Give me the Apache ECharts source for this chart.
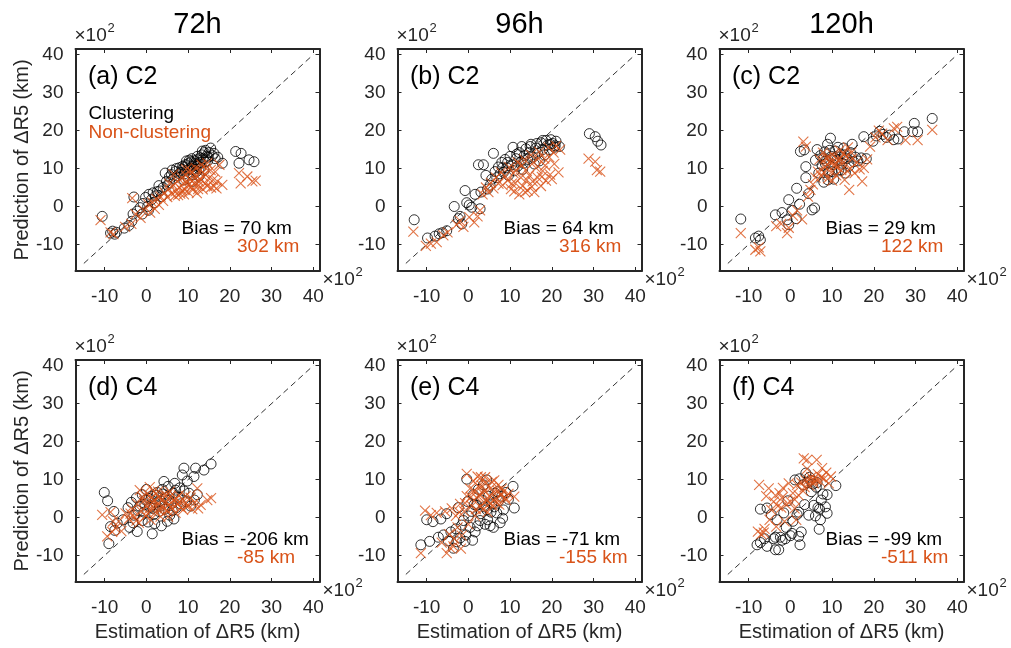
<!DOCTYPE html>
<html>
<head>
<meta charset="utf-8">
<script src="https://cdn.jsdelivr.net/npm/echarts@6/dist/echarts.min.js"></script>
<style>html,body{margin:0;padding:0;background:#fff;}#c{width:1011px;height:648px;}</style>
</head>
<body>
<div id="c"></div>
<script>
// ---------------- DATA (values in units of 10^2 km) ----------------
const columnTitles = ['72h', '96h', '120h'];
const panelLabels = ['(a) C2', '(b) C2', '(c) C2', '(d) C4', '(e) C4', '(f) C4'];
const biasClustering = ['Bias = 70 km', 'Bias = 64 km', 'Bias = 29 km', 'Bias = -206 km', 'Bias = -71 km', 'Bias = -99 km'];
const biasNonClustering = ['302 km', '316 km', '122 km', '-85 km', '-155 km', '-511 km'];
const tickValues = [-10, 0, 10, 20, 30, 40];
const diagonal = [[-15, -15], [40, 40]];

const aC = [[-10.6,-2.6],[-8.6,-7.0],[-8.1,-6.5],[-7.6,-7.3],[-7.2,-6.8],[-5.3,-5.7],[-4.2,-5.0],[-3.5,-3.9],[-3.2,-2.0],[-3.0,2.5],[-2.2,-1.2],[-1.5,-0.3],[-0.8,0.8],[-0.2,2.4],[0.3,0.0],[0.6,3.2],[1.2,1.8],[1.6,3.6],[2.2,2.8],[2.6,3.9],[3.2,4.1],[3.6,2.6],[4.0,5.0],[4.5,8.8],[5.0,5.6],[5.6,6.3],[6.2,9.6],[6.6,7.4],[7.0,9.2],[7.4,8.1],[7.9,10.2],[8.3,9.0],[8.7,10.6],[9.1,8.6],[9.4,11.0],[9.8,9.6],[10.1,11.3],[10.4,10.0],[10.7,11.8],[11.0,10.6],[11.3,9.8],[11.5,12.0],[11.8,11.0],[12.1,12.3],[12.3,10.8],[12.6,9.9],[12.9,12.8],[13.1,11.5],[13.3,13.6],[13.6,12.6],[13.9,14.2],[14.1,11.7],[14.4,13.3],[14.7,12.0],[15.0,14.2],[15.4,15.4],[16.2,14.0],[16.5,12.6],[17.1,13.0],[18.2,11.4],[11.0,6.6],[10.0,7.4],[12.6,8.0],[9.0,7.0],[13.8,9.5],[5.5,7.8],[6.0,8.4],[7.2,10.0],[8.0,8.6],[8.6,9.8],[9.2,10.4],[9.6,12.0],[10.3,12.2],[10.9,12.6],[11.6,11.4],[12.2,13.2],[12.8,11.6],[13.4,14.6],[14.2,14.8],[11.2,8.4],[12.0,9.2],[13.0,10.2],[14.8,13.0],[15.8,13.4],[2.0,1.0],[0.5,-1.0],[-1.0,-2.0],[3.0,5.5],[4.8,6.6],[21.4,14.5],[22.7,14.0],[22.2,11.4],[24.6,12.3],[25.8,11.8]];
const aN = [[-11.0,-3.6],[-8.6,-6.8],[-7.9,-7.3],[-5.1,-5.4],[-3.6,-4.6],[-3.4,2.2],[-2.6,-2.0],[-1.4,-3.0],[-0.6,-1.0],[0.4,0.6],[0.9,-1.6],[1.4,1.1],[2.0,-0.6],[2.4,2.0],[3.0,0.4],[3.4,2.6],[4.0,1.5],[4.4,3.6],[5.0,2.5],[5.4,4.6],[6.0,3.4],[6.4,5.6],[7.0,4.0],[7.4,6.6],[7.9,5.0],[8.1,3.4],[8.5,7.6],[8.9,6.0],[9.2,4.4],[9.5,8.2],[10.0,5.6],[10.1,3.7],[10.5,7.1],[11.0,9.0],[11.1,4.4],[11.5,6.1],[12.0,8.0],[12.1,3.5],[12.5,5.5],[12.9,9.6],[13.1,7.0],[13.5,4.5],[14.0,8.6],[14.1,6.0],[14.6,11.4],[15.0,7.5],[15.5,5.0],[16.2,5.3],[16.5,9.1],[17.0,6.6],[18.2,5.7],[17.5,11.0],[6.5,8.5],[5.5,6.0],[9.5,9.8],[7.6,3.0],[8.6,4.2],[9.8,6.6],[10.8,5.2],[11.6,7.4],[12.6,6.6],[13.6,8.0],[14.6,5.4],[15.4,9.6],[16.0,7.0],[11.8,10.2],[13.2,11.0],[9.0,3.2],[6.8,2.8],[10.4,9.6],[12.4,4.6],[14.4,10.0],[16.8,4.8],[22.2,8.8],[22.6,6.1],[24.2,7.9],[25.4,6.6],[26.2,6.8]];

const bC = [[-13.0,-3.5],[-9.8,-8.3],[-8.0,-7.8],[-7.0,-7.2],[-6.2,-6.9],[-5.2,-6.4],[-3.4,0.0],[-2.4,-3.2],[-2.0,-2.6],[-1.6,-4.6],[-0.8,4.2],[-0.4,1.0],[0.2,0.4],[0.8,-0.2],[1.6,3.2],[2.4,11.0],[2.8,-0.6],[3.0,3.8],[3.6,11.0],[4.2,8.2],[4.6,4.6],[5.2,5.6],[5.6,7.2],[6.0,14.0],[6.4,9.2],[6.8,7.6],[7.2,10.4],[7.6,8.6],[8.0,11.6],[8.4,9.0],[8.8,12.4],[9.2,10.2],[9.6,8.2],[10.0,13.2],[10.4,11.0],[10.7,15.6],[11.0,9.4],[11.4,12.6],[11.8,10.6],[12.2,14.2],[12.6,11.8],[13.0,9.8],[13.4,13.4],[13.8,15.2],[14.2,12.4],[14.6,14.2],[15.0,16.4],[15.4,13.0],[15.8,11.2],[16.2,15.4],[16.6,14.0],[17.0,12.0],[17.4,16.8],[17.8,15.0],[18.2,13.6],[18.6,17.4],[19.0,16.2],[19.4,15.0],[19.8,17.6],[20.2,16.6],[20.6,15.6],[21.0,17.2],[21.8,15.8],[9.4,11.6],[11.6,13.8],[13.2,11.4],[14.8,15.8],[16.4,16.6],[17.8,17.4],[19.6,16.4],[20.8,16.0],[12.8,15.8],[8.2,10.2],[29.0,19.2],[30.4,18.4],[31.0,17.2],[31.8,16.2]];
const bN = [[-13.2,-6.6],[-10.2,-10.4],[-9.0,-9.8],[-7.6,-9.4],[-6.0,-7.6],[-5.0,-6.8],[-2.8,-4.8],[-2.0,-3.8],[-1.2,-5.4],[0.2,-2.8],[1.4,-4.2],[2.2,-2.6],[2.8,-1.0],[3.4,3.2],[4.2,5.0],[4.8,3.8],[5.4,6.2],[6.0,4.8],[6.6,7.6],[7.2,6.0],[7.8,9.0],[8.2,5.6],[8.8,8.0],[9.4,6.8],[9.8,10.4],[10.2,4.6],[10.8,8.8],[11.2,6.2],[11.8,11.6],[12.2,3.2],[12.6,7.6],[13.0,5.4],[13.4,12.4],[13.8,9.6],[14.2,4.2],[14.6,8.2],[15.0,13.6],[15.4,6.6],[15.8,3.8],[16.2,10.2],[16.6,7.6],[17.0,14.4],[17.4,5.4],[17.8,9.4],[18.2,12.6],[18.6,6.8],[19.2,15.6],[19.6,8.4],[20.0,7.2],[20.4,14.2],[21.0,16.0],[21.6,9.0],[22.0,15.0],[10.4,6.0],[11.4,9.6],[12.8,10.8],[14.0,7.0],[15.6,11.6],[16.8,12.6],[18.4,10.8],[19.4,13.0],[20.6,11.2],[13.6,3.8],[15.2,5.2],[17.6,7.8],[11.0,4.0],[28.8,12.6],[30.4,11.8],[30.8,9.6],[31.6,9.2]];

const cC = [[-11.9,-3.3],[-8.4,-8.3],[-7.6,-7.8],[-7.2,-8.8],[-3.6,-2.2],[-2.0,-1.6],[-0.8,-3.5],[-0.4,1.8],[-0.4,-4.8],[0.4,-1.0],[1.4,-3.2],[1.5,4.8],[2.2,0.6],[2.4,14.5],[3.3,14.9],[3.7,10.5],[3.7,7.6],[4.4,3.4],[5.2,-0.9],[5.8,-0.4],[6.0,12.2],[6.4,15.0],[6.8,8.8],[7.2,13.4],[7.6,10.8],[8.0,6.4],[8.2,14.4],[8.6,12.0],[8.9,16.4],[9.2,9.0],[9.6,18.0],[9.8,13.2],[10.2,11.0],[10.4,7.2],[10.8,14.6],[11.2,12.4],[11.6,9.6],[12.0,13.8],[12.4,11.4],[12.8,15.4],[13.2,8.8],[13.6,12.6],[14.0,10.6],[14.4,14.2],[14.8,16.4],[15.2,11.8],[15.6,13.0],[16.2,12.0],[17.0,12.8],[17.6,18.4],[18.2,12.6],[8.4,11.2],[9.4,14.8],[10.0,9.2],[10.6,12.8],[11.4,15.6],[12.2,9.6],[13.0,13.6],[7.8,12.6],[9.0,7.0],[12.6,12.6],[19.8,17.2],[20.6,18.6],[21.4,19.8],[22.2,19.0],[23.0,18.2],[23.8,18.8],[24.8,17.6],[25.8,17.8],[27.3,19.7],[29.3,19.7],[29.7,21.9],[30.5,19.7],[34.0,23.2]];
const cN = [[-11.9,-7.0],[-8.4,-11.4],[-7.6,-10.8],[-7.2,-11.8],[-3.4,-5.2],[-2.2,-4.6],[-0.8,-7.0],[-0.4,-5.6],[0.6,-2.4],[1.6,-1.0],[2.8,-3.4],[3.1,17.1],[3.7,15.8],[4.2,2.6],[4.8,4.4],[5.4,5.8],[6.0,7.6],[6.6,9.2],[7.0,12.4],[7.4,8.0],[7.8,14.2],[8.2,10.4],[8.6,12.8],[9.0,7.4],[9.4,11.6],[9.8,9.0],[10.2,13.6],[10.6,10.8],[11.0,8.2],[11.4,12.2],[11.8,14.8],[12.2,9.6],[12.6,11.4],[13.0,7.0],[13.4,13.2],[13.8,15.6],[14.1,4.4],[14.4,10.0],[14.8,12.6],[15.4,8.8],[16.0,11.6],[16.6,9.8],[17.2,6.6],[17.6,10.2],[18.4,12.4],[8.0,9.0],[9.2,13.0],[10.4,12.0],[11.2,10.4],[12.0,12.6],[12.8,14.0],[13.6,9.4],[8.8,11.0],[10.0,6.8],[14.6,14.2],[19.1,15.8],[20.4,18.2],[21.2,20.0],[22.0,19.2],[23.3,17.5],[24.8,20.6],[25.6,21.0],[27.6,17.5],[30.5,17.5],[34.0,20.2]];

const dC = [[-10.1,6.6],[-9.3,4.4],[-7.8,1.6],[-8.6,-2.4],[-7.6,-3.4],[-9.0,-6.9],[-7.0,-1.5],[-5.6,-0.6],[-4.4,2.6],[-3.6,4.0],[-3.0,0.6],[-2.2,-3.7],[-2.4,5.2],[-1.6,3.0],[-1.0,6.0],[-0.6,1.4],[-0.2,4.6],[0.4,-1.2],[0.8,2.8],[1.2,5.6],[1.4,-4.3],[1.8,0.8],[2.2,3.8],[2.6,6.6],[3.0,1.6],[3.4,4.4],[3.8,7.4],[4.2,9.5],[4.4,2.2],[4.8,5.2],[5.2,8.2],[5.6,0.6],[6.0,3.6],[6.4,6.4],[6.8,9.0],[7.2,2.6],[7.6,5.4],[8.0,7.8],[8.6,11.2],[9.0,13.0],[9.0,7.0],[9.6,4.2],[10.2,6.4],[11.4,10.8],[11.5,4.6],[11.8,13.0],[13.8,12.5],[15.5,14.1],[-1.0,-0.8],[0.0,7.4],[5.0,-1.0],[3.6,-2.2],[-2.0,1.8],[-0.4,3.4],[0.6,5.0],[1.6,2.4],[2.4,5.8],[3.2,3.0],[4.0,6.2],[5.4,4.6],[6.2,1.8],[7.0,7.2],[8.2,3.6],[-3.2,-1.4],[-4.0,-2.6],[2.0,-1.6],[6.6,-0.4],[9.8,9.6],[10.6,3.0],[12.2,6.0]];
const dN = [[-10.6,0.7],[-9.4,-5.0],[-8.2,-3.8],[-7.4,-2.8],[-8.6,1.4],[-6.6,-1.0],[-5.0,1.1],[-4.2,-0.4],[-3.4,2.2],[-2.8,0.2],[-2.2,3.6],[-1.8,-1.4],[-1.2,1.6],[-0.6,4.4],[-0.2,0.4],[0.2,6.2],[0.6,2.2],[1.0,-0.6],[1.4,4.0],[1.8,7.0],[2.2,1.4],[2.6,3.2],[3.0,5.4],[3.4,0.2],[3.8,2.6],[4.2,6.0],[4.6,4.0],[5.0,1.8],[5.4,3.4],[5.8,5.6],[6.2,2.4],[6.6,4.6],[7.0,1.2],[7.4,3.6],[7.8,5.8],[8.4,2.6],[9.0,4.4],[9.6,3.0],[10.0,3.0],[10.6,5.2],[11.0,2.2],[12.2,7.7],[13.0,3.3],[14.6,4.6],[15.5,5.1],[0.8,8.0],[-1.6,7.2],[-1.0,5.4],[0.0,3.2],[0.4,1.0],[1.2,5.2],[1.6,2.8],[2.0,4.6],[2.8,6.8],[3.2,1.8],[3.6,4.6],[4.4,2.4],[4.8,5.8],[5.2,0.2],[5.6,6.8],[6.4,3.4],[7.2,5.0],[8.0,4.0],[8.8,2.0],[9.4,5.6],[11.6,4.0],[12.4,2.4],[-3.8,1.0],[-2.4,-0.8],[-6.0,-3.6],[-8.0,-1.0]];

const eC = [[-11.4,-7.2],[-9.3,-6.3],[-10.0,-0.6],[-8.5,-1.1],[-7.2,-5.2],[-6.0,-4.6],[-5.2,1.0],[-4.8,-6.2],[-3.6,-8.1],[-3.0,-3.0],[-2.4,2.6],[-2.0,-5.4],[-1.2,-0.8],[-0.8,-6.3],[-0.4,10.1],[-0.2,4.2],[0.4,-2.6],[0.8,1.6],[1.2,6.0],[1.6,-3.8],[2.0,3.2],[2.4,7.4],[2.8,-0.8],[3.2,4.6],[3.6,8.6],[4.0,-1.8],[4.4,9.9],[4.4,2.0],[4.8,5.6],[5.2,-2.2],[5.6,3.6],[6.0,-2.6],[6.4,6.4],[6.8,1.2],[7.2,4.4],[7.6,-1.4],[8.0,5.6],[8.4,2.0],[9.0,6.6],[9.6,4.8],[10.7,8.2],[11.0,2.5],[-6.6,-0.4],[1.0,-6.0],[0.0,0.4],[1.4,3.4],[2.2,-2.2],[3.0,1.0],[3.8,2.8],[4.6,-0.6],[5.4,1.4],[6.2,2.8],[7.0,6.8],[8.2,-0.2],[-1.6,-2.0],[-2.8,-6.4],[-4.2,-3.8],[-0.6,-4.6]];
const eN = [[-11.4,-9.4],[-10.4,1.8],[-9.0,0.6],[-7.6,1.2],[-6.4,-6.6],[-5.2,-9.4],[-4.6,-4.4],[-4.0,2.4],[-3.6,-7.6],[-3.0,0.4],[-2.6,-2.6],[-2.0,3.6],[-1.6,-4.8],[-1.0,1.6],[-0.4,11.5],[-0.4,5.6],[0.0,-1.8],[0.4,7.6],[0.8,3.0],[1.2,9.6],[1.6,0.4],[2.0,5.2],[2.4,8.2],[2.8,2.8],[3.0,10.6],[3.4,6.4],[3.8,4.0],[4.2,9.0],[4.6,1.4],[5.0,5.6],[5.4,7.8],[5.8,3.2],[6.2,9.8],[6.6,5.0],[7.0,7.0],[7.4,3.4],[7.8,5.8],[8.4,6.8],[9.0,4.6],[9.6,6.2],[11.0,5.5],[-1.8,-8.2],[-5.6,1.6],[0.6,5.4],[1.4,7.0],[1.8,2.2],[2.6,6.0],[3.2,8.4],[3.6,2.2],[4.0,7.0],[4.4,4.4],[5.2,3.8],[5.6,9.4],[6.0,6.6],[6.8,3.8],[7.2,8.6],[8.0,7.6],[8.8,5.2],[-3.4,-5.6],[-4.4,-8.0],[-2.2,1.4],[-0.8,3.8],[2.2,10.8],[4.0,10.6]];

const fC = [[-8.0,-7.2],[-7.2,-6.6],[-5.6,-7.6],[-6.2,-5.6],[-7.2,2.2],[-5.6,2.5],[-3.6,-8.5],[-2.8,-8.5],[-3.6,-5.2],[-2.0,-6.0],[-3.2,-0.6],[-1.2,-5.6],[-0.6,4.4],[0.0,-4.8],[0.6,-1.0],[1.1,9.9],[1.6,0.8],[2.0,-5.0],[2.3,-7.2],[2.6,-3.8],[2.2,10.2],[3.0,8.6],[3.4,3.4],[3.7,11.7],[4.0,9.2],[4.4,0.6],[5.0,6.8],[5.6,3.2],[6.0,0.4],[6.2,8.0],[6.6,2.6],[6.9,-3.1],[7.2,-0.6],[7.4,4.6],[7.8,6.2],[8.4,2.8],[8.8,1.1],[8.8,6.0],[10.9,8.4],[-4.6,0.8],[-1.6,1.2],[4.6,10.6],[-4.0,-5.6],[-2.4,-5.2],[0.4,-4.2],[5.4,8.8],[6.4,9.2],[4.8,9.8],[7.0,2.2],[2.0,1.4],[-1.0,-2.6]];
const fN = [[-7.8,-3.7],[-7.0,-4.4],[-6.2,-3.0],[-7.5,8.6],[-5.8,5.6],[-5.2,7.7],[-4.6,2.0],[-4.0,4.2],[-3.4,-2.4],[-3.0,3.0],[-2.6,6.4],[-2.0,5.2],[-1.4,-1.0],[-1.0,3.4],[-0.4,9.0],[0.0,4.2],[0.6,6.4],[1.0,2.4],[1.6,8.6],[2.0,5.8],[2.6,9.2],[3.0,7.0],[3.2,15.6],[3.6,9.8],[4.0,15.2],[4.0,12.8],[4.6,8.4],[5.0,10.6],[5.6,9.0],[6.3,15.2],[6.6,11.4],[7.0,9.6],[7.6,13.0],[8.0,10.2],[8.6,11.8],[9.2,9.0],[9.7,10.8],[-5.0,-0.6],[1.4,-0.6],[4.4,10.0],[5.4,9.8],[6.2,10.0],[3.4,8.0],[-3.6,5.8],[-2.2,2.6],[-6.4,-4.0],[1.0,4.8],[7.4,10.6],[-1.8,7.8]];

const clusteringData = [aC, bC, cC, dC, eC, fC];
const nonClusteringData = [aN, bN, cN, dN, eN, fN];

// ---------------- LAYOUT / STYLE ----------------
const FONT = '"Liberation Sans", Arial, Helvetica, sans-serif';
const AXC = '#262626';
const ORANGE = '#D95319';
const GL = [75.5, 397.5, 719.5];
const GW = 244;
const GT = [49, 360];
const GH = 222;
const AMIN = -17, AMAX = 41.5;

const grids = [], xAxes = [], yAxes = [], series = [], graphics = [];

function axisCommon(gi, pos, showLabel) {
  return {
    type: 'value', gridIndex: gi, position: pos, min: AMIN, max: AMAX,
    axisLine: { show: true, onZero: false, lineStyle: { color: AXC, width: 2 } },
    axisTick: { show: true, inside: true, length: 4, customValues: tickValues, lineStyle: { color: AXC, width: 1 } },
    axisLabel: { show: showLabel, customValues: tickValues, color: AXC, fontSize: 19, fontFamily: FONT, margin: 12 },
    splitLine: { show: false }
  };
}
function txt(x, y, text, size, color, extra) {
  return {
    type: 'text', x: x, y: y, silent: true,
    style: Object.assign({ text: text, fill: color, fontSize: size, fontFamily: FONT,
      align: 'left', verticalAlign: 'middle', textAlign: 'left', textVerticalAlign: 'middle' }, extra || {})
  };
}

for (let p = 0; p < 6; p++) {
  const r = Math.floor(p / 3), c = p % 3;
  const L = GL[c], T = GT[r];
  grids.push({ left: L, top: T, width: GW, height: GH, show: false });
  const xb = axisCommon(p, 'bottom', true);
  const xt = axisCommon(p, 'top', false);
  const yl = axisCommon(p, 'left', true);
  const yr = axisCommon(p, 'right', false);
  yl.axisLabel.margin = 12;
  xb.axisLabel.margin = 16;
  xAxes.push(xb, xt);
  yAxes.push(yl, yr);
  const xi = 2 * p;
  series.push({
    type: 'line', xAxisIndex: xi, yAxisIndex: xi, data: diagonal, symbol: 'none', silent: true,
    lineStyle: { color: '#333', width: 1, type: [6, 4] }, z: 1, animation: false
  });
  series.push({
    type: 'scatter', xAxisIndex: xi, yAxisIndex: xi, data: clusteringData[p], symbol: 'circle', symbolSize: 10,
    itemStyle: { color: 'rgba(0,0,0,0)', borderColor: '#000', borderWidth: 1 }, z: 2, animation: false, silent: true
  });
  series.push({
    type: 'scatter', xAxisIndex: xi, yAxisIndex: xi, data: nonClusteringData[p],
    symbol: 'path://M0,0L10,10M10,0L0,10', symbolSize: 10,
    itemStyle: { color: 'rgba(0,0,0,0)', borderColor: ORANGE, borderWidth: 1.1 }, z: 3, animation: false, silent: true
  });

  graphics.push(txt(L + 12.5, T + 28, panelLabels[p], 25, '#000'));
  graphics.push(txt(L + 106, T + 179.5, biasClustering[p], 19, '#000'));
  graphics.push(txt(L + 161.5, T + 198, biasNonClustering[p], 19, ORANGE));
  graphics.push(txt(L - 1, T - 13, '×10', 19, AXC));
  graphics.push(txt(L + 32, T - 21, '2', 13, AXC));
  graphics.push(txt(L + GW + 3, T + GH + 9, '×10', 19, AXC));
  graphics.push(txt(L + GW + 36, T + GH + 1, '2', 13, AXC));
  if (r === 0) graphics.push(txt(L + GW / 2, 25, columnTitles[c], 29, '#000', { align: 'center', textAlign: 'center' }));
  if (c === 0) {
    const yl2 = txt(22, T + GH / 2, 'Prediction of ΔR5 (km)', 20, AXC, { align: 'center', textAlign: 'center' });
    yl2.rotation = Math.PI / 2;
    graphics.push(yl2);
  }
  if (r === 1) graphics.push(txt(L + GW / 2, 632, 'Estimation of ΔR5 (km)', 20, AXC, { align: 'center', textAlign: 'center' }));
}
graphics.push(txt(GL[0] + 13, GT[0] + 65, 'Clustering', 19, '#000'));
graphics.push(txt(GL[0] + 13, GT[0] + 84, 'Non-clustering', 19, ORANGE));

const chart = echarts.init(document.getElementById('c'), null, { renderer: 'canvas' });
chart.setOption({
  backgroundColor: '#fff',
  animation: false,
  grid: grids,
  xAxis: xAxes,
  yAxis: yAxes,
  series: series,
  graphic: { elements: graphics }
});
</script>
</body>
</html>
